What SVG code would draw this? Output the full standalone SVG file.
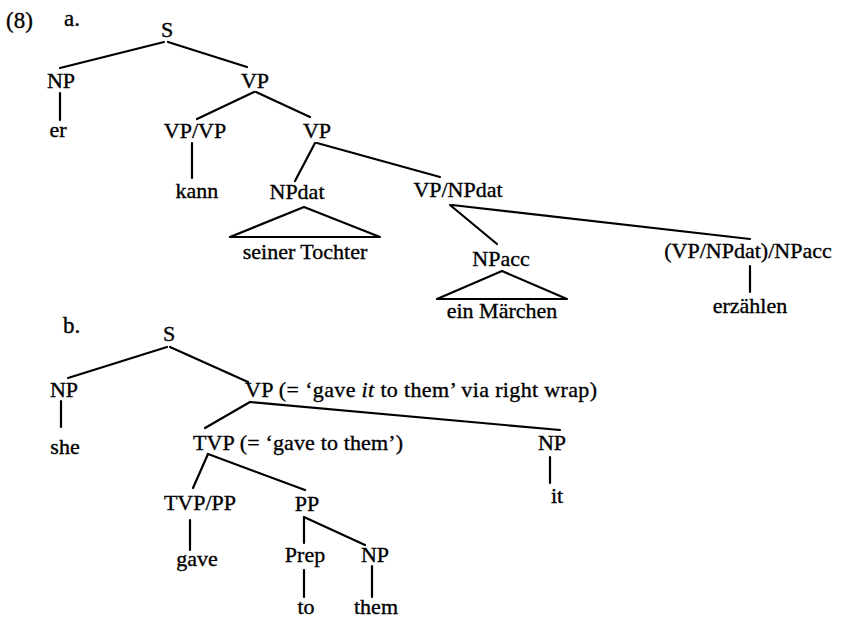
<svg xmlns="http://www.w3.org/2000/svg" width="841" height="618" viewBox="0 0 841 618">
<style>
text{font-family:"Liberation Serif","Times New Roman",serif;font-size:22px;fill:#000;stroke:#000;stroke-width:0.35}
.c{text-anchor:middle}
.l line,.l polygon{stroke:#000;stroke-width:2.2;fill:none;stroke-linecap:round;stroke-linejoin:round}
</style>
<rect width="841" height="618" fill="#fff"/>
<g id="labels">
<text x="6" y="28" style="font-size:23px">(8)</text>
<text x="64" y="26" style="font-size:23px">a.</text>
<text x="63" y="333" style="font-size:23px">b.</text>
</g>
<g id="connectors" class="l">
<line x1="164" y1="42" x2="60" y2="68"/>
<line x1="168" y1="42" x2="247" y2="67"/>
<line x1="60" y1="93" x2="60" y2="120"/>
<line x1="254" y1="92" x2="197" y2="119"/>
<line x1="256" y1="92" x2="310" y2="117"/>
<line x1="192" y1="143" x2="192" y2="178"/>
<line x1="315" y1="143" x2="295" y2="181"/>
<line x1="317" y1="143" x2="440" y2="177"/>
<polygon points="304,207 230,237 380,237"/>
<line x1="450" y1="205" x2="497" y2="244"/>
<line x1="452" y1="205" x2="750" y2="239"/>
<polygon points="502,271 437,299 567,299"/>
<line x1="750" y1="266" x2="750" y2="292"/>
<line x1="167" y1="347" x2="68" y2="378"/>
<line x1="170" y1="347" x2="248" y2="382"/>
<line x1="61" y1="401" x2="61" y2="427"/>
<line x1="250" y1="402" x2="205" y2="428"/>
<line x1="250" y1="402" x2="560" y2="430"/>
<line x1="550" y1="457" x2="550" y2="483"/>
<line x1="208" y1="454" x2="193" y2="488"/>
<line x1="208" y1="454" x2="305" y2="490"/>
<line x1="190" y1="520" x2="190" y2="550"/>
<line x1="304" y1="517" x2="304" y2="543"/>
<line x1="304" y1="517" x2="365" y2="545"/>
<line x1="304" y1="570" x2="304" y2="597"/>
<line x1="372" y1="566" x2="372" y2="597"/>
</g>
<g id="a-S"><text class="c" x="167" y="37">S</text></g>
<g id="a-NP"><text class="c" x="61" y="88">NP</text></g>
<g id="a-er"><text class="c" x="58" y="137">er</text></g>
<g id="a-VP"><text class="c" x="255" y="88">VP</text></g>
<g id="a-VPVP"><text class="c" x="195" y="138">VP/VP</text></g>
<g id="a-kann"><text class="c" x="197" y="198">kann</text></g>
<g id="a-VP2"><text class="c" x="317" y="138">VP</text></g>
<g id="a-NPdat"><text class="c" x="297" y="199">NPdat</text></g>
<g id="a-seiner"><text class="c" x="305" y="259">seiner Tochter</text></g>
<g id="a-VPNPdat"><text class="c" x="458" y="197">VP/NPdat</text></g>
<g id="a-NPacc"><text class="c" x="501" y="266">NPacc</text></g>
<g id="a-maerchen"><text class="c" x="502" y="318">ein Märchen</text></g>
<g id="a-verb"><text class="c" x="748" y="258">(VP/NPdat)/NPacc</text></g>
<g id="a-erzaehlen"><text class="c" x="750" y="313">erzählen</text></g>
<g id="b-S"><text class="c" x="169" y="341">S</text></g>
<g id="b-NP"><text class="c" x="64" y="397">NP</text></g>
<g id="b-she"><text class="c" x="65" y="454">she</text></g>
<g id="b-VP"><text x="245" y="397" textLength="352" lengthAdjust="spacing">VP (= ‘gave <tspan font-style="italic">it</tspan> to them’ via right wrap)</text></g>
<g id="b-TVP"><text x="193" y="450" textLength="210" lengthAdjust="spacing">TVP (= ‘gave to them’)</text></g>
<g id="b-NP2"><text class="c" x="552" y="450">NP</text></g>
<g id="b-it"><text class="c" x="557" y="503">it</text></g>
<g id="b-TVPPP"><text class="c" x="200" y="510">TVP/PP</text></g>
<g id="b-gave"><text class="c" x="197" y="566">gave</text></g>
<g id="b-PP"><text class="c" x="307" y="511">PP</text></g>
<g id="b-Prep"><text class="c" x="305" y="562">Prep</text></g>
<g id="b-NP3"><text class="c" x="375" y="562">NP</text></g>
<g id="b-to"><text class="c" x="306" y="614">to</text></g>
<g id="b-them"><text class="c" x="376" y="614">them</text></g>
</svg>
